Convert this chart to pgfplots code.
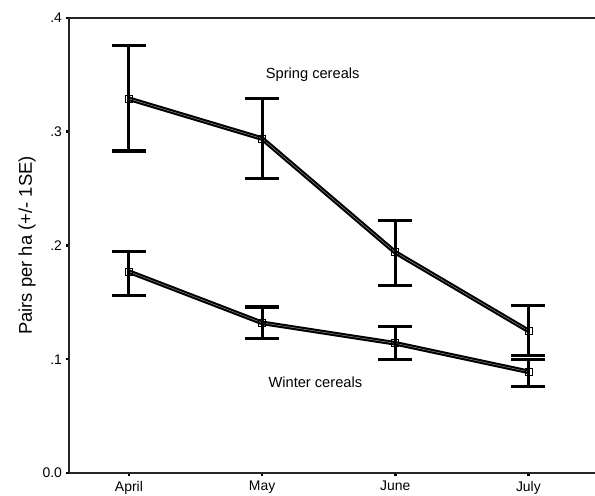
\documentclass[border=0pt]{standalone}
\usepackage{pgfplots}
\pgfplotsset{compat=1.18}
\usepackage{fontspec}
\setmainfont{Liberation Sans}
\pgfplotstableread{
x y ep em
0 0.329 0.047 0.046
1 0.294 0.035 0.035
2 0.194 0.028 0.029
3 0.125 0.022 0.022
}\spring
\pgfplotstableread{
x y ep em
0 0.177 0.018 0.021
1 0.132 0.014 0.014
2 0.114 0.015 0.014
3 0.089 0.011 0.013
}\winter
\begin{document}
\begin{tikzpicture}
\useasboundingbox (-69bp,-23bp) rectangle (526bp,473bp);
\begin{axis}[
  at={(0,0)}, anchor=south west,
  scale only axis, width=526bp, height=455bp,
  xmin=-0.45, xmax=3.5, ymin=0, ymax=0.4,
  axis lines*=left,
  axis line style={line width=1.2bp, black!85},
  xtick={0,1,2,3}, xticklabels={April,May,June,July},
  ytick={0,0.1,0.2,0.3,0.4}, yticklabels={0.0,.1,.2,.3,.4},
  tick align=outside, major tick length=2.5bp,
  tick style={line width=2.5bp, black},
  ticklabel style={font=\fontsize{14}{16}\selectfont},
  xticklabel style={yshift=-2bp},
  yticklabel style={xshift=-1bp},
  ylabel={Pairs per ha (+/- 1SE)},
  ylabel style={font=\fontsize{18.5}{21}\selectfont, at={(-42bp,0.5)}, anchor=center},
  clip=false,
  cycle list={{black}},
  linestyle/.style={black, line width=2.1bp, double=black!35, double distance=0.4bp, mark=none},
  barstyle/.style={black, only marks, mark=square, mark size=3.5bp,
    mark options={solid, line width=0.7bp, draw=black},
    error bars/y dir=both, error bars/y explicit,
    error bars/error bar style={line width=3bp, black},
    error bars/error mark options={rotate=90, mark size=17bp, line width=3.2bp, black}},
]
% lines
\addplot[linestyle] table[x=x, y=y] {\spring};
\addplot[linestyle] table[x=x, y=y] {\winter};
% error bars and markers
\addplot[barstyle] table[x=x, y=y, y error plus=ep, y error minus=em] {\spring};
\addplot[barstyle] table[x=x, y=y, y error plus=ep, y error minus=em] {\winter};
\node[font=\fontsize{14.7}{17}\selectfont] at (axis cs:1.38,0.350) {Spring cereals};
\node[font=\fontsize{14.7}{17}\selectfont] at (axis cs:1.40,0.080) {Winter cereals};
\draw[line width=1.2bp, black!85] (rel axis cs:0,1) -- (rel axis cs:1,1);
\end{axis}
\end{tikzpicture}
\end{document}
